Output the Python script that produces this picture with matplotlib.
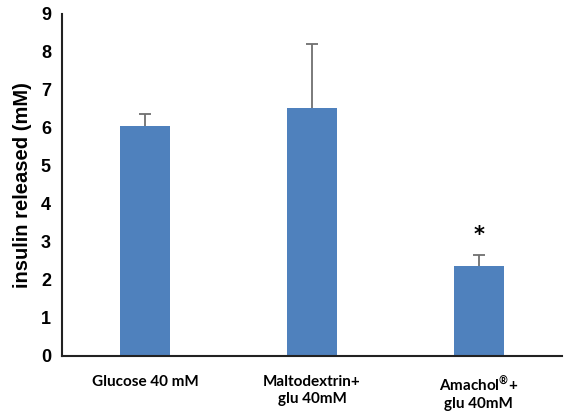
import matplotlib
matplotlib.use("Agg")
import matplotlib.pyplot as plt

plt.rcParams["mathtext.fontset"] = "custom"
plt.rcParams["mathtext.rm"] = "Lato:bold"
plt.rcParams["mathtext.it"] = "Lato:bold"
plt.rcParams["mathtext.bf"] = "Lato:bold"

categories = ["Glucose 40 mM", "Maltodextrin+\nglu 40mM", "Amachol$^{\u00ae}$+\nglu 40mM"]
values = [6.05, 6.52, 2.36]
err_upper = [0.32, 1.68, 0.30]
sig_marks = ["", "", "*"]
yticks = list(range(0, 10))

fig = plt.figure(figsize=(5.67, 4.12), dpi=100)
ax = fig.add_axes([62/567, 56/412, 500/567, 342/412])

x = list(range(len(categories)))
ax.bar(x, values, width=0.3, color="#4F81BD", zorder=2)
eb = ax.errorbar(x, values, yerr=[[0]*len(values), err_upper], fmt="none",
                 ecolor="#707070", elinewidth=1.3, capsize=4, capthick=1.3, zorder=1)
caplines = eb.lines[1]
if len(caplines) == 2:
    caplines[0].set_visible(False)
for xi, v, e, m in zip(x, values, err_upper, sig_marks):
    if m:
        ax.text(xi, v + e + 0.25, m, ha="center", va="bottom", fontsize=15,
                fontweight="bold", family="DejaVu Sans")

ax.set_xlim(-0.5, len(categories) - 0.5)
ax.set_ylim(0, 9)
ax.set_yticks(yticks)
ax.set_yticklabels([str(t) for t in yticks], fontsize=13, fontweight="bold",
                   family="Liberation Sans")
ax.set_xticks(x)
ax.set_xticklabels(categories, fontsize=11, fontweight="bold", family="Lato")
ax.tick_params(axis="both", length=0, pad=8)
ax.tick_params(axis="x", pad=14)
ax.set_ylabel("insulin released (mM)", fontsize=14.5, fontweight="bold",
              family="Liberation Sans", labelpad=6)
for s in ["top", "right"]:
    ax.spines[s].set_visible(False)
for s in ["left", "bottom"]:
    ax.spines[s].set_linewidth(1.5)
    ax.spines[s].set_color("#222222")

fig.savefig("out.png", dpi=100)
